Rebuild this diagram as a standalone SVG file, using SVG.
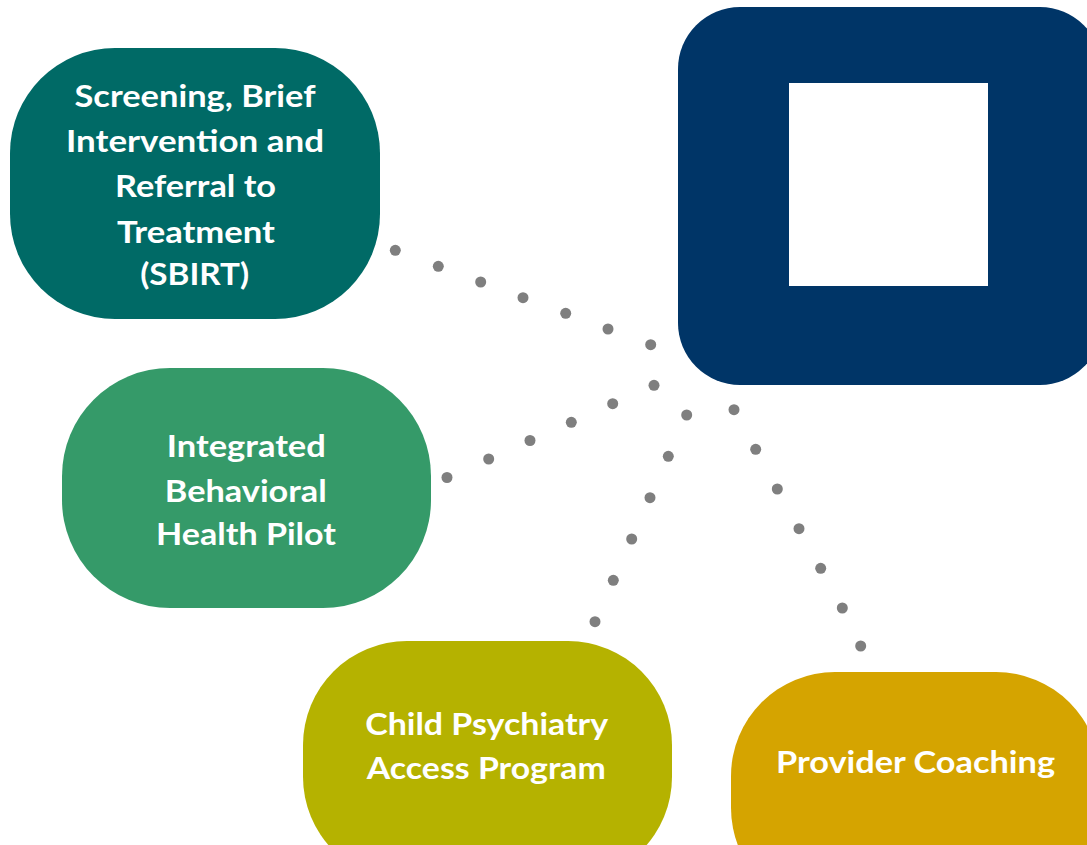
<svg xmlns="http://www.w3.org/2000/svg" width="1087" height="845" viewBox="0 0 1087 845">
<style>
.lbl{font-family:Lato,"Open Sans","Liberation Sans",sans-serif;font-weight:bold;font-size:30.5px;fill:#FFFFFF;text-anchor:middle}
.dot{fill:#7F7F7F}
</style>
<rect width="1087" height="845" fill="#FFFFFF"/>
<g id="center-node">
<rect x="678" y="7" width="424" height="378" rx="62" ry="62" fill="#003567"/>
<rect x="789" y="83" width="199" height="203" fill="#FFFFFF"/>
</g>
<g id="connectors">
<g id="c-sbirt">
<circle class="dot" cx="395.3" cy="250.3" r="5.5"/>
<circle class="dot" cx="438.3" cy="266.3" r="5.5"/>
<circle class="dot" cx="480.7" cy="282" r="5.5"/>
<circle class="dot" cx="523" cy="297.7" r="5.5"/>
<circle class="dot" cx="565.7" cy="313.3" r="5.5"/>
<circle class="dot" cx="608" cy="329" r="5.5"/>
<circle class="dot" cx="650.7" cy="344.7" r="5.5"/>
</g>
<g id="c-ibh">
<circle class="dot" cx="447" cy="477.5" r="5.5"/>
<circle class="dot" cx="488.7" cy="459" r="5.5"/>
<circle class="dot" cx="530" cy="440.5" r="5.5"/>
<circle class="dot" cx="571.3" cy="422.3" r="5.5"/>
<circle class="dot" cx="612.7" cy="403.7" r="5.5"/>
<circle class="dot" cx="654" cy="385.3" r="5.5"/>
</g>
<g id="c-cpap">
<circle class="dot" cx="595" cy="621.7" r="5.5"/>
<circle class="dot" cx="613.3" cy="580.3" r="5.5"/>
<circle class="dot" cx="631.7" cy="539" r="5.5"/>
<circle class="dot" cx="650" cy="497.7" r="5.5"/>
<circle class="dot" cx="668.3" cy="456.3" r="5.5"/>
<circle class="dot" cx="686.7" cy="415" r="5.5"/>
</g>
<g id="c-coach">
<circle class="dot" cx="860.7" cy="646" r="5.5"/>
<circle class="dot" cx="842.3" cy="608" r="5.5"/>
<circle class="dot" cx="820.7" cy="568.3" r="5.5"/>
<circle class="dot" cx="799" cy="528.7" r="5.5"/>
<circle class="dot" cx="777.3" cy="489" r="5.5"/>
<circle class="dot" cx="755.7" cy="449.3" r="5.5"/>
<circle class="dot" cx="734" cy="409.7" r="5.5"/>
</g>
</g>
<g id="sbirt">
<rect x="10" y="48" width="370" height="271" rx="105" ry="105" fill="#006A66"/>
<text class="lbl" x="195" y="107" textLength="241" lengthAdjust="spacingAndGlyphs">Screening, Brief</text>
<text class="lbl" x="195" y="152" textLength="258" lengthAdjust="spacingAndGlyphs">Intervention and</text>
<text class="lbl" x="195.5" y="197" textLength="161" lengthAdjust="spacingAndGlyphs">Referral to</text>
<text class="lbl" x="196" y="243" textLength="158" lengthAdjust="spacingAndGlyphs">Treatment</text>
<text class="lbl" x="194.7" y="285" textLength="109" lengthAdjust="spacingAndGlyphs">(SBIRT)</text>
</g>
<g id="ibh">
<rect x="62" y="368" width="369" height="240" rx="108" ry="108" fill="#359A69"/>
<text class="lbl" x="246.3" y="456.7" textLength="159" lengthAdjust="spacingAndGlyphs">Integrated</text>
<text class="lbl" x="245.8" y="501.7" textLength="162" lengthAdjust="spacingAndGlyphs">Behavioral</text>
<text class="lbl" x="246" y="545" textLength="180" lengthAdjust="spacingAndGlyphs">Health Pilot</text>
</g>
<g id="cpap">
<rect x="303" y="641" width="369" height="240" rx="104" ry="104" fill="#B5B200"/>
<text class="lbl" x="486.7" y="735" textLength="243" lengthAdjust="spacingAndGlyphs">Child Psychiatry</text>
<text class="lbl" x="486.3" y="779.3" textLength="239" lengthAdjust="spacingAndGlyphs">Access Program</text>
</g>
<g id="coaching">
<rect x="731" y="672" width="369" height="240" rx="104" ry="104" fill="#D5A400"/>
<text class="lbl" x="915.5" y="772.7" textLength="279" lengthAdjust="spacingAndGlyphs">Provider Coaching</text>
</g>
</svg>
